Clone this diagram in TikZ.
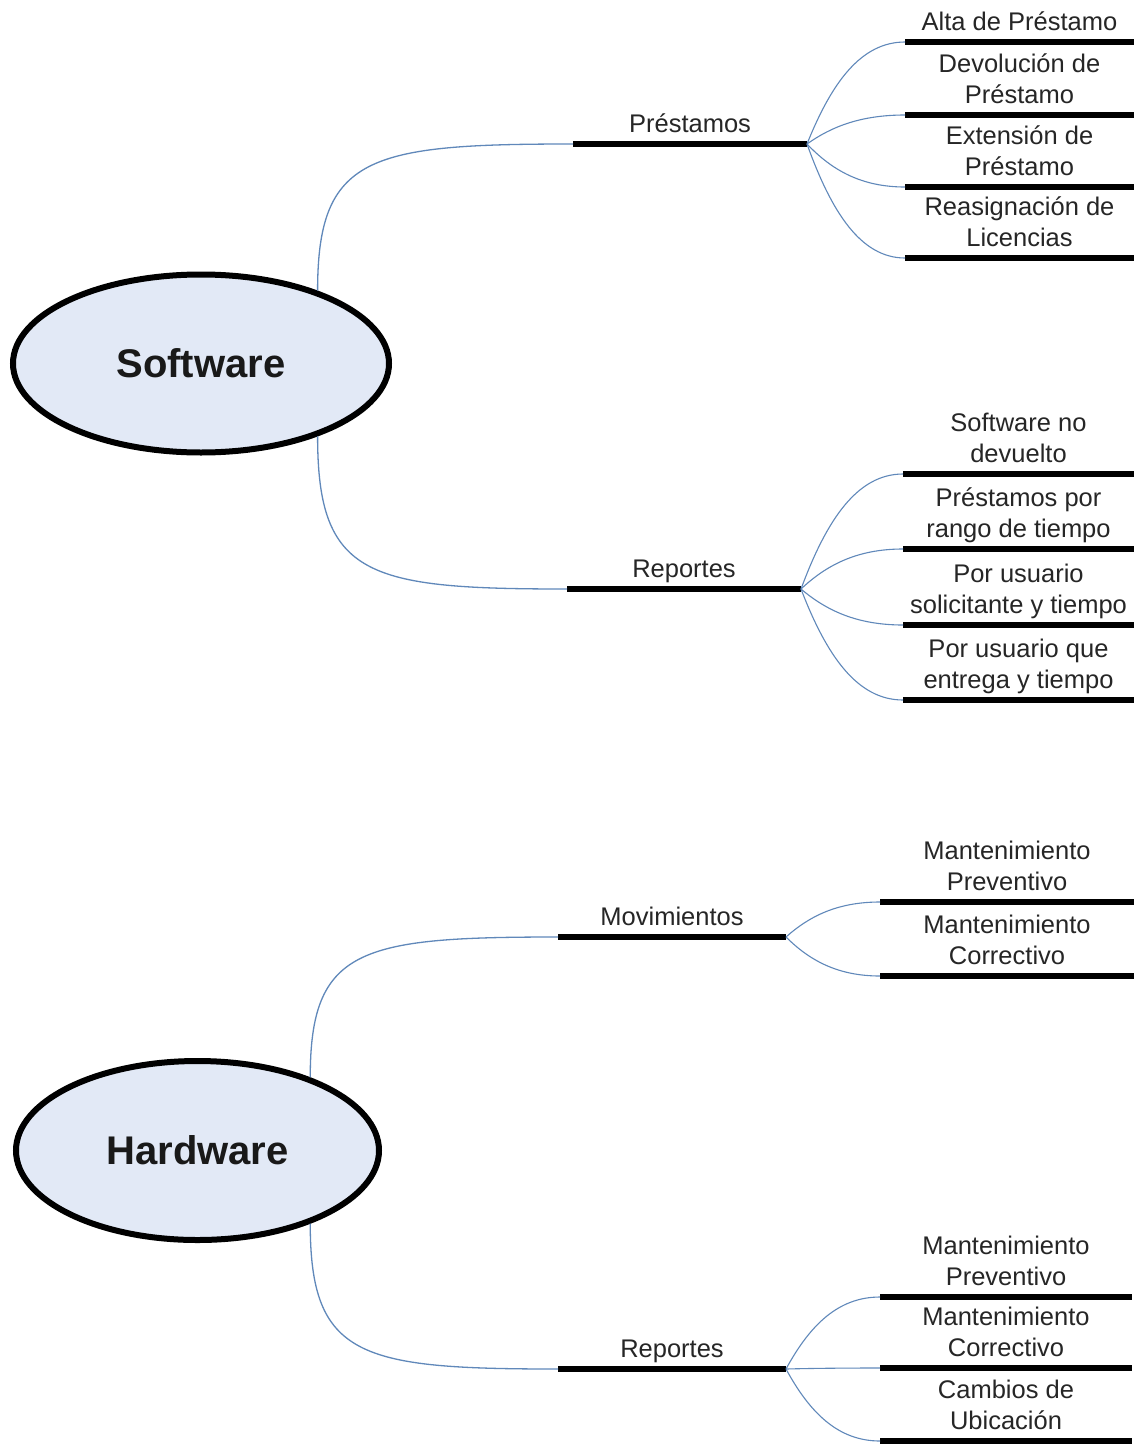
\documentclass[tikz,border=0pt]{standalone}
\usepackage{fontspec}
\setmainfont{Liberation Sans}
\usetikzlibrary{shapes.geometric,calc}

\definecolor{hubfill}{RGB}{226,233,246}
\definecolor{linkblue}{RGB}{96,136,186}
\definecolor{ink}{RGB}{38,38,38}

\tikzset{
  hub/.style={ellipse, draw=black, line width=6pt, fill=hubfill, inner sep=0pt,
    font=\fontsize{40}{48}\selectfont\bfseries, text=black!90},
  bar/.style={draw=black, line width=6.5pt},
  lbl/.style={anchor=south, inner sep=0pt, align=center, text depth=0pt,
    text=ink, font=\fontsize{25.5}{31.5}\selectfont},
  % main branch: leaves the ellipse vertically, meets the bar horizontally
  link/.style={draw=linkblue, line width=1.3pt,
    to path={let \p1=(\tikztostart), \p2=(\tikztotarget) in
      .. controls (\x1,{\y1+0.92*(\y2-\y1)}) and ({\x2-0.8*(\x2-\x1)},\y2) .. (\tikztotarget)}},
  % fan-out from a topic bar to its sub-items
  twig/.style={draw=linkblue, line width=1.1pt,
    to path={let \p1=(\tikztostart), \p2=(\tikztotarget) in
      .. controls ({\x1+0.25*(\x2-\x1)},{\y1+0.6*(\y2-\y1)}) and ({\x2-0.45*(\x2-\x1)},\y2) .. (\tikztotarget)}},
}

% \topicbar{name}{x west}{x east}{y}{text}
\newcommand\topicbar[5]{%
  \coordinate (#1-w) at (#2,#4);
  \coordinate (#1-e) at (#3,#4);
  \draw[bar] (#1-w) -- (#1-e);
  \node[lbl] (#1) at ({(#2+#3)/2},{#4-11}) {#5};
}

\begin{document}
\begin{tikzpicture}[x=1pt,y=-1pt]
\useasboundingbox (0,0) rectangle (1134,1445);
\fill[white] (0,0) rectangle (1134,1445);

% central topics
\node[hub, minimum width=376pt, minimum height=178pt] (sw) at (201,363.5) {Software};
\node[hub, minimum width=363pt, minimum height=179pt] (hw) at (197.5,1150.5) {Hardware};

% Software: Préstamos
\topicbar{pr}{573}{807}{144}{Préstamos}
\topicbar{pr1}{905}{1134}{42}{Alta de Préstamo}
\topicbar{pr2}{905}{1134}{115}{Devolución de\\Préstamo}
\topicbar{pr3}{905}{1134}{187}{Extensión de\\Préstamo}
\topicbar{pr4}{905}{1134}{258}{Reasignación de\\Licencias}

% Software: Reportes
\topicbar{rs}{567}{801}{589}{Reportes}
\topicbar{rs1}{903}{1134}{474}{Software no\\devuelto}
\topicbar{rs2}{903}{1134}{549}{Préstamos por\\rango de tiempo}
\topicbar{rs3}{903}{1134}{625}{Por usuario\\solicitante y tiempo}
\topicbar{rs4}{903}{1134}{700}{Por usuario que\\entrega y tiempo}

% Hardware: Movimientos
\topicbar{mv}{558}{786}{937}{Movimientos}
\topicbar{mv1}{880}{1134}{902}{Mantenimiento\\Preventivo}
\topicbar{mv2}{880}{1134}{976}{Mantenimiento\\Correctivo}

% Hardware: Reportes
\topicbar{rh}{558}{786}{1369}{Reportes}
\topicbar{rh1}{880}{1132}{1297}{Mantenimiento\\Preventivo}
\topicbar{rh2}{880}{1132}{1368}{Mantenimiento\\Correctivo}
\topicbar{rh3}{880}{1132}{1441}{Cambios de\\Ubicación}

% connectors from the central topics
\draw[link] (sw.32) to (pr-w);
\draw[link] (sw.-32) to (rs-w);
\draw[link] (hw.33) to (mv-w);
\draw[link] (hw.-33) to (rh-w);

% fan-outs
\foreach \c in {pr1,pr2,pr3,pr4} \draw[twig] (pr-e) to (\c-w);
\foreach \c in {rs1,rs2,rs3,rs4} \draw[twig] (rs-e) to (\c-w);
\foreach \c in {mv1,mv2} \draw[twig] (mv-e) to (\c-w);
\foreach \c in {rh1,rh2,rh3} \draw[twig] (rh-e) to (\c-w);
\end{tikzpicture}
\end{document}
